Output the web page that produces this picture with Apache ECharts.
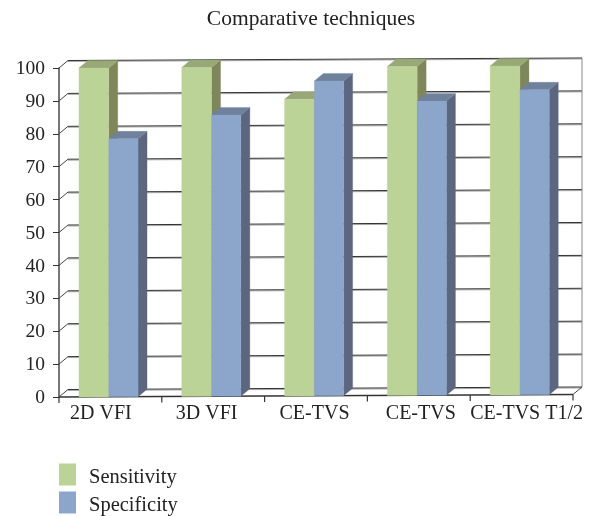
<!DOCTYPE html>
<html>
<head>
<meta charset="utf-8">
<style>html,body{margin:0;padding:0;background:#fff}#c{width:591px;height:516px}</style>
<script src="https://cdn.jsdelivr.net/npm/echarts@6/dist/echarts.min.js"></script>
</head>
<body>
<div id="c"></div>
<script>
const categories = ["2D VFI", "3D VFI", "CE-TVS", "CE-TVS", "CE-TVS T1/2"];
const sensitivity = [100, 100, 90.2, 100, 100];
const specificity = [78.4, 85.5, 95.7, 89.4, 92.7];
const yTicks = [0, 10, 20, 30, 40, 50, 60, 70, 80, 90, 100];

// layout constants
const DX = 9, DY = 7.5, TILT = 0.0049, LEFT = 59;
const labelFont = 'Liberation Serif';
const labelShift = [-9.5, -6.5, -1.5, 2, 5];
const tilt = (x, y) => y - (x - LEFT) * TILT;

function wall(params, api) {
  const v = api.value(0);
  const cs = params.coordSys;
  const x0 = cs.x, x1 = cs.x + cs.width;
  const y = api.coord([0, v])[1];
  const kids = [];
  const line = (a, b, c, d, col, w) => ({
    type: 'line', shape: {x1: a, y1: b, x2: c, y2: d},
    style: {stroke: col, lineWidth: w}, silent: true
  });
  const bx0 = x0 + DX, bx1 = x1 + DX;
  const by0 = y - DY, by1 = tilt(x1, y) - DY;
  kids.push(line(bx0, by0 + 1, bx1, by1 + 1, '#a8a8a8', 1));
  kids.push(line(bx0, by0, bx1, by1, '#333', 1));
  kids.push(line(x0, y, bx0, by0, '#444', 1));
  if (v === yTicks[0]) {
    kids.push(line(x0, y, x1, tilt(x1, y), '#333', 1.6));
    kids.push(line(x1, tilt(x1, y), bx1, by1, '#444', 1));
    const bw = cs.width / categories.length;
    for (let i = 0; i <= categories.length; i++) {
      const tx = x0 + i * bw;
      const ty = tilt(tx, y);
      kids.push(line(tx, ty, tx, ty + 6, '#333', 1.2));
    }
  }
  if (v === yTicks[yTicks.length - 1]) {
    kids.push(line(bx1, by1, bx1, tilt(x1, api.coord([0, 0])[1]) - DY, '#888', 1));
  }
  return {type: 'group', children: kids};
}

function bar3d(offsetBand, widthBand, colors) {
  return function (params, api) {
    const i = api.value(0), v = api.value(1);
    const band = api.size([1, 0])[0];
    const c = api.coord([i, v]);
    const base = api.coord([i, 0]);
    const xl = c[0] + offsetBand * band;
    const xr = xl + widthBand * band;
    const yt = tilt(xl, c[1]), yb = tilt(xl, base[1]);
    const poly = (pts, fill) => ({
      type: 'polygon', shape: {points: pts},
      style: {fill: fill, stroke: fill, lineWidth: 0.3}
    });
    return {type: 'group', children: [
      poly([[xr, yt], [xr + DX, yt - DY], [xr + DX, yb - DY], [xr, yb]], colors.side),
      poly([[xl, yt], [xl + DX, yt - DY], [xr + DX, yt - DY], [xr, yt]], colors.top),
      poly([[xl, yt], [xr, yt], [xr, yb], [xl, yb]], colors.front)
    ]};
  };
}

const green = {front: '#BBD397', side: '#7F865B', top: '#98A876'};
const blue = {front: '#8CA5CB', side: '#5D667F', top: '#6F819B'};

const rich = {};
labelShift.forEach((s, i) => {
  rich['l' + i] = {
    fontFamily: labelFont, fontSize: 20, color: '#222',
    padding: s < 0 ? [0, -2 * s, 0, 0] : [0, 0, 0, 2 * s]
  };
});

const chart = echarts.init(document.getElementById('c'), null, {renderer: 'canvas'});
chart.setOption({
  animation: false,
  backgroundColor: '#fff',
  title: {
    text: 'Comparative techniques', left: 311, top: 8, textAlign: 'center', padding: 0,
    textStyle: {fontFamily: labelFont, fontWeight: 'normal', fontSize: 21.5, color: '#222'}
  },
  legend: {
    left: 59, top: 461, height: 120, orient: 'vertical', itemWidth: 17, itemHeight: 22, itemGap: 1, padding: 0,
    icon: 'rect', data: ['Sensitivity', 'Specificity'], selectedMode: false,
    formatter: n => '{t|' + n + '}',
    textStyle: {
      fontFamily: labelFont, fontSize: 20.5, color: '#222',
      rich: {t: {fontFamily: labelFont, fontSize: 20.5, color: '#222', lineHeight: 16, padding: [6, 0, 0, 8]}}
    }
  },
  grid: {left: LEFT, right: 18, top: 68, bottom: 119, containLabel: false},
  xAxis: {
    type: 'category', data: categories, boundaryGap: true,
    axisLine: {show: false}, axisTick: {show: false},
    axisLabel: {
      interval: 0, margin: 7, hideOverlap: false,
      formatter: (v, i) => '{l' + i + '|' + v + '}', rich: rich
    }
  },
  yAxis: {
    type: 'value', min: 0, max: 100, interval: 10,
    splitLine: {show: false},
    axisLine: {show: true, lineStyle: {color: '#555', width: 1.6}},
    axisTick: {show: true, length: 6, lineStyle: {color: '#333'}},
    axisLabel: {
      margin: 14, formatter: v => '{n|' + v + '}',
      rich: {n: {fontFamily: labelFont, fontSize: 19.5, color: '#222', padding: [2, 0, 0, 0]}}
    }
  },
  series: [
    {
      type: 'custom', name: 'wall', renderItem: wall, z: 1, silent: true,
      coordinateSystem: 'cartesian2d', encode: {y: 0}, data: yTicks.map(v => [v]),
      clip: false
    },
    {
      type: 'custom', name: 'Sensitivity', z: 2, clip: false,
      itemStyle: {color: green.front},
      renderItem: bar3d(-0.306, 0.29, green),
      encode: {x: 0, y: 1},
      data: sensitivity.map((v, i) => [i, v])
    },
    {
      type: 'custom', name: 'Specificity', z: 3, clip: false,
      itemStyle: {color: blue.front},
      renderItem: bar3d(-0.016, 0.285, blue),
      encode: {x: 0, y: 1},
      data: specificity.map((v, i) => [i, v])
    }
  ]
});
</script>
</body>
</html>
